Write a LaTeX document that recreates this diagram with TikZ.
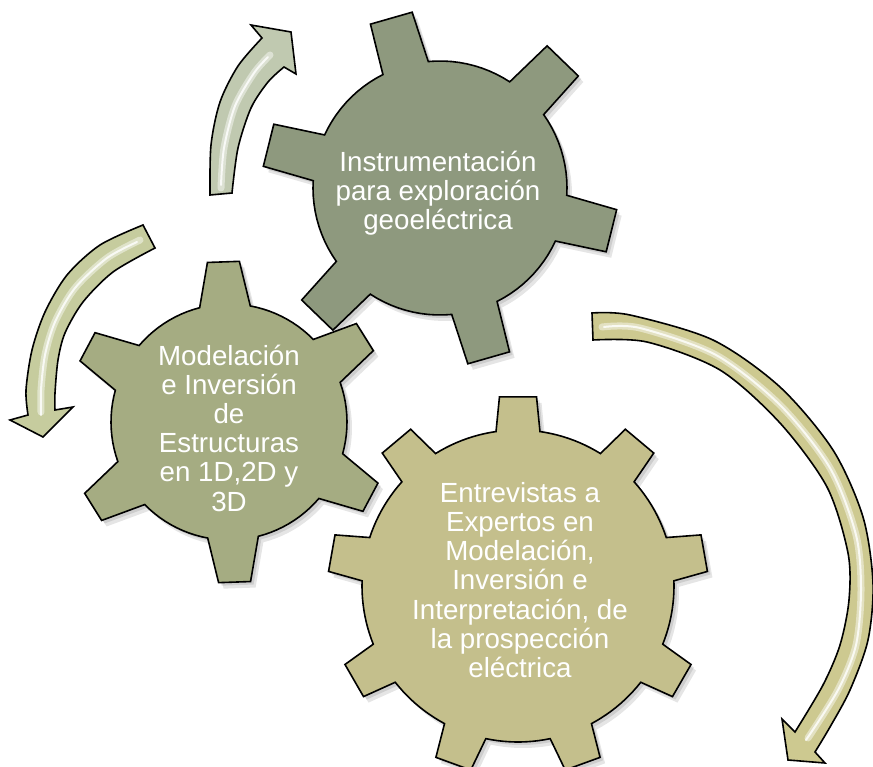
\documentclass[tikz,border=0pt]{standalone}
\usepackage{fontspec}
\setmainfont{Liberation Sans}
\usetikzlibrary{calc}
\definecolor{gearTop}{RGB}{142,153,126}
\definecolor{gearLeft}{RGB}{165,172,130}
\definecolor{gearBot}{RGB}{196,191,140}
\definecolor{arrA}{RGB}{192,201,176}
\definecolor{arrB}{RGB}{198,204,158}
\definecolor{arrC}{RGB}{205,201,144}
\newcommand{\gearshape}[9]{%
  \pgfmathsetmacro{\gst}{360/#3}%
  \pgfmathtruncatemacro{\gN}{#3-1}%
  \path[#9] ({#1+#5*cos(#4-#7)},{#2+#5*sin(#4-#7)})
  \foreach \k [evaluate=\k as \ta using #4+\k*\gst,
               evaluate=\k as \tb using #4+\k*\gst+#7,
               evaluate=\k as \tc using #4+(\k+1)*\gst-#7] in {0,...,\gN}{
    -- ({#1+#6*cos(\ta-#8)},{#2+#6*sin(\ta-#8)})
    -- ({#1+#6*cos(\ta+#8)},{#2+#6*sin(\ta+#8)})
    -- ({#1+#5*cos(\tb)},{#2+#5*sin(\tb)})
    -- plot[domain=\tb:\tc,samples=12] ({#1+#5*cos(\x)},{#2+#5*sin(\x)})
  } -- cycle;
}
\newcommand{\fullgear}[9]{%
  \gearshape{#1+5}{#2+6}{#3}{#4}{#5}{#6}{#7}{#8}{fill=black,fill opacity=0.10}
  \gearshape{#1+3}{#2+3}{#3}{#4}{#5}{#6}{#7}{#8}{fill=black,fill opacity=0.10}
  \gearshape{#1}{#2}{#3}{#4}{#5}{#6}{#7}{#8}{fill=#9,draw=black,line width=1.6pt,line join=miter}
  \gearshape{#1}{#2}{#3}{#4}{#5-7}{#6-7}{#7-2}{#8-1.5}{draw=white,draw opacity=0.35,line width=2.2pt}
}
\tikzset{
  gtext/.style={align=center,text=white,inner sep=0pt,
    font=\fontsize{27.7}{29.2}\selectfont},
  arrowbody/.style={draw=black,line width=1.6pt,line join=miter,fill=#1},
  glow/.style={draw=white,line cap=round,draw opacity=#1}
}
\begin{document}
\begin{tikzpicture}[x=1pt,y=-1pt]
\useasboundingbox (0,0) rectangle (873,767);
\fill[white] (0,0) rectangle (873,767);

% gears
\fullgear{440}{188}{6}{14}{127}{178}{10.7}{7}{gearTop}
\fullgear{229}{422}{6}{28}{118}{161}{12.4}{5.7}{gearLeft}
\fullgear{518}{586}{9}{-10}{156}{190}{8.1}{5.6}{gearBot}

% arrow 1 (top left)
\path[arrowbody=arrA] plot[smooth] coordinates {(210,195) (211,145) (220,102) (238,66) (262,38)}
  -- (251,25) -- (291,32) -- (296,74) -- (284,67)
  -- plot[smooth] coordinates {(284,67) (268,82) (251,108) (238,148) (232,193)} -- cycle;
\draw[glow=0.45,line width=7pt] plot[smooth] coordinates {(221,188) (224,148) (235,106) (254,73) (270,55)};
\draw[glow=0.8,line width=2pt] plot[smooth] coordinates {(221,185) (224,148) (235,106) (254,73) (268,57)};

% arrow 2 (left)
\path[arrowbody=arrB] plot[smooth] coordinates {(143,225) (100,245) (67,275) (45,312) (32,350) (26,390) (28,415)}
  -- (10,420) -- (43,437) -- (73,407) -- (55,410)
  -- plot[smooth] coordinates {(55,410) (55,393) (58,360) (65,333) (83,302) (113,272) (155,248)} -- cycle;
\draw[glow=0.45,line width=7pt] plot[smooth] coordinates {(140,240) (107,258) (75,288) (55,322) (45,355) (41,390) (41,412)};
\draw[glow=0.8,line width=2pt] plot[smooth] coordinates {(137,242) (107,258) (75,288) (55,322) (45,355) (41,390) (41,415)};

% arrow 3 (right)
\path[arrowbody=arrC] plot[smooth] coordinates {(592,313) (630,315) (713,340) (780,387) (833,450) (863,517) (873,583) (868,640) (850,690) (830,727) (815,752)}
  -- (825,763) -- (788,760) -- (782,719) -- (795,732)
  -- plot[smooth] coordinates {(795,732) (823,685) (840,645) (849,600) (848,553) (827,487) (780,423) (720,370) (647,342) (593,340)} -- cycle;
\draw[glow=0.45,line width=7pt] plot[smooth] coordinates {(602,327) (640,328) (716,355) (780,405) (830,468) (856,535) (861,590) (856,645) (838,690) (808,738)};
\draw[glow=0.8,line width=2pt] plot[smooth] coordinates {(604,327) (640,328) (716,355) (780,405) (830,468) (856,535) (861,590) (856,645) (838,690) (806,740)};

% texts
\node[gtext] (t1) at (438,193) {Instrumentación\\para exploración\\geoeléctrica};
\node[gtext] (t2) at (229,428) {Modelación\\e Inversión\\de\\Estructuras\\en 1D,2D y\\3D};
\node[gtext] (t3) at (520,580) {Entrevistas a\\Expertos en\\Modelación,\\Inversión e\\Interpretación, de\\la prospección\\eléctrica};
\end{tikzpicture}
\end{document}
